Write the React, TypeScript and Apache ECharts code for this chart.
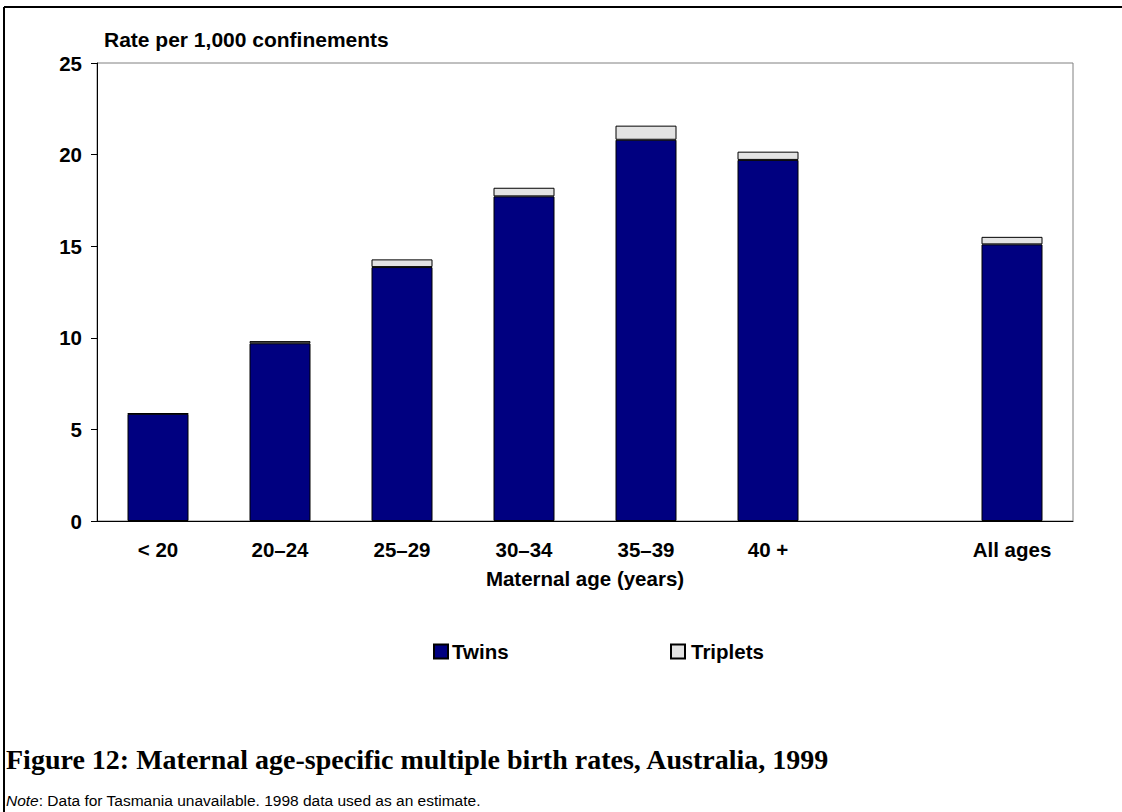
import React, { useEffect, useRef } from "react";
import * as echarts from "echarts";

const categories = ["< 20", "20–24", "25–29", "30–34", "35–39", "40 +", "", "All ages"];
const twins = [5.85, 9.7, 13.86, 17.72, 20.81, 19.71, null, 15.1];
const triplets = [0.03, 0.12, 0.42, 0.47, 0.77, 0.45, null, 0.41];
const yTicks = { min: 0, max: 25, interval: 5 };

const SANS = "'Liberation Sans', Arial, sans-serif";
const SERIF = "'Liberation Serif', 'Times New Roman', serif";
const FS = 20.5;

export default function App() {
  const ref = useRef<HTMLDivElement>(null);
  useEffect(() => {
    const chart = echarts.init(ref.current!, null, { renderer: "svg" });
    const legendText = { fontFamily: SANS, fontWeight: "bold", fontSize: FS, color: "#000" };
    chart.setOption({
      animation: false,
      backgroundColor: "#ffffff",
      grid: {
        left: 97,
        right: 49,
        top: 63,
        bottom: 291,
        show: true,
        borderColor: "#808080",
        borderWidth: 1,
        backgroundColor: "transparent",
      },
      legend: [
        {
          data: ["Twins"],
          left: 428,
          top: 636,
          icon: "rect",
          itemWidth: 14,
          itemHeight: 14,
          itemGap: 4,
          textStyle: { ...legendText, padding: [0, 0, 0, -1] },
        },
        {
          data: ["Triplets"],
          left: 665,
          top: 636,
          icon: "rect",
          itemWidth: 14,
          itemHeight: 14,
          itemGap: 4,
          textStyle: { ...legendText, padding: [0, 0, 0, 1] },
        },
      ],
      xAxis: {
        type: "category",
        data: categories,
        axisLine: { lineStyle: { color: "#000", width: 1 } },
        axisTick: { show: false },
        axisLabel: { fontFamily: SANS, fontWeight: "bold", fontSize: FS, color: "#000", margin: 18, interval: 0 },
        name: "Maternal age (years)",
        nameLocation: "middle",
        nameGap: 47,
        nameTextStyle: { fontFamily: SANS, fontWeight: "bold", fontSize: FS, color: "#000", verticalAlign: "top" },
        splitLine: { show: false },
      },
      yAxis: {
        type: "value",
        min: yTicks.min,
        max: yTicks.max,
        interval: yTicks.interval,
        axisLine: { show: true, lineStyle: { color: "#000", width: 1 } },
        axisTick: { show: true, length: 6, lineStyle: { color: "#000" } },
        axisLabel: { fontFamily: SANS, fontWeight: "bold", fontSize: FS, color: "#000", margin: 15 },
        splitLine: { show: false },
      },
      series: [
        {
          name: "Twins",
          type: "bar",
          stack: "total",
          data: twins,
          barWidth: "50%",
          itemStyle: { color: "#000080", borderColor: "#000", borderWidth: 1 },
        },
        {
          name: "Triplets",
          type: "bar",
          stack: "total",
          data: triplets,
          barWidth: "50%",
          itemStyle: { color: "#e3e3e3", borderColor: "#000", borderWidth: 1 },
        },
      ],
      graphic: [
        { type: "line", shape: { x1: 4, y1: 7, x2: 1122, y2: 7 }, style: { stroke: "#000", lineWidth: 2 } },
        { type: "line", shape: { x1: 4, y1: 7, x2: 4, y2: 812 }, style: { stroke: "#000", lineWidth: 2 } },
        {
          type: "text",
          left: 104,
          top: 29,
          style: { text: "Rate per 1,000 confinements", font: `bold 21px ${SANS}`, fill: "#000" },
        },
        {
          type: "text",
          left: 6,
          top: 745,
          style: {
            text: "Figure 12: Maternal age-specific multiple birth rates, Australia, 1999",
            font: `bold 28px ${SERIF}`,
            fill: "#000",
          },
        },
        {
          type: "text",
          left: 6,
          top: 792,
          style: {
            text: "{i|Note}: Data for Tasmania unavailable. 1998 data used as an estimate.",
            font: `15.5px ${SANS}`,
            fill: "#000",
            rich: { i: { fontStyle: "italic", fontFamily: SANS, fontSize: 15.5, fill: "#000" } },
          },
        },
      ],
    });
    return () => chart.dispose();
  }, []);
  return <div ref={ref} style={{ position: "fixed", left: 0, top: 0, width: 1122, height: 812 }} />;
}
